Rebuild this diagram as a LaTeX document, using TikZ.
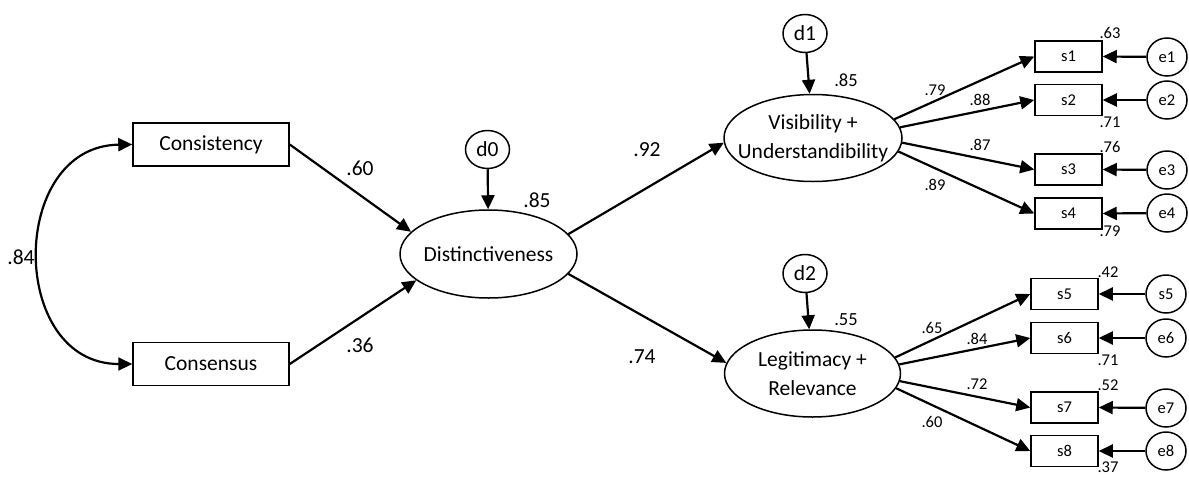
\documentclass[tikz,border=0pt]{standalone}
\usepackage{fontspec}
\setmainfont{Carlito}
\usetikzlibrary{arrows.meta,shapes.geometric}
\begin{document}
\begin{tikzpicture}[x=1pt,y=-1pt,
  big/.style={font=\fontsize{21.5}{29}\selectfont},
  mid/.style={font=\fontsize{18.5}{22}\selectfont},
  small/.style={font=\fontsize{16.5}{19}\selectfont},
  obsbox/.style={draw,line width=1.5pt,inner sep=0pt,minimum width=156pt,minimum height=43pt,big},
  ind/.style={draw,line width=1.5pt,inner sep=0pt,minimum width=67pt,minimum height=31pt,small},
  lat/.style={draw,ellipse,line width=1.5pt,inner sep=0pt,minimum width=177pt,minimum height=87pt},
  lattext/.style={inner sep=0pt,big,align=center},
  dist/.style={draw,ellipse,line width=1.5pt,inner sep=0pt,minimum width=44pt,minimum height=38pt,big},
  err/.style={draw,ellipse,line width=1.5pt,inner sep=0pt,minimum width=40pt,minimum height=38pt,small},
  arr/.style={-{Triangle[length=14pt,width=13pt]},line width=2.2pt},
  lbl/.style={inner sep=0pt}
]
\useasboundingbox (0,0) rectangle (1189,477);
% nodes
\node[obsbox] (cons) at (211,144.5) {Consistency};
\node[obsbox] (consen) at (211,364) {Consensus};
\node[lat,minimum height=88pt] (dis) at (488.5,254) {};
\node[lattext] (dist) at (dis) {Distinctiveness};
\node[dist] (d0) at (487.5,149.5) {d0};
\node[lat,minimum width=178pt] (vis) at (813,138) {};
\node[lattext] (vist) at (vis) {Visibility +\\Understandibility};
\node[dist] (d1) at (805,33.5) {d1};
\node[lat,minimum width=176pt] (leg) at (812.5,373.5) {};
\node[lattext] (legt) at (leg) {Legitimacy +\\Relevance};
\node[dist] (d2) at (805,273.5) {d2};
\node[ind] (s1) at (1068.5,56.5) {s1};
\node[ind] (s2) at (1068.5,100) {s2};
\node[ind] (s3) at (1068.5,169.5) {s3};
\node[ind] (s4) at (1068.5,213.5) {s4};
\node[ind] (s5) at (1064.5,294) {s5};
\node[ind] (s6) at (1064.5,338) {s6};
\node[ind] (s7) at (1064.5,407.5) {s7};
\node[ind] (s8) at (1064.5,451) {s8};
\node[err] (e1) at (1167,57) {e1};
\node[err] (e2) at (1167,100) {e2};
\node[err] (e3) at (1167,170) {e3};
\node[err] (e4) at (1167,213) {e4};
\node[err] (e5) at (1166,294) {s5};
\node[err] (e6) at (1166,338) {e6};
\node[err] (e7) at (1166,408) {e7};
\node[err] (e8) at (1166,451) {e8};
% connectors
\draw[{Triangle[length=14pt,width=13pt]}-{Triangle[length=14pt,width=13pt]},line width=2.2pt]
  (cons.west) .. controls (8,146) and (8,364) .. (consen.west);
\draw[arr] (cons.east) -- (dis.164);
\draw[arr] (consen.east) -- (dis.200);
\draw[arr] (d0) -- (dis);
\draw[arr] (dis.14) -- (vis.183);
\draw[arr] (dis.-14) -- (leg.173);
\draw[arr] (d1) -- (vis);
\draw[arr] (d2) -- (leg);
\draw[arr] (vis.13) -- (s1.west);
\draw[arr] (vis.7) -- (s2.west);
\draw[arr] (vis.-3) -- (s3.west);
\draw[arr] (vis.-9) -- (s4.west);
\draw[arr] (leg.11) -- (s5.west);
\draw[arr] (leg.6) -- (s6.west);
\draw[arr] (leg.-5) -- (s7.west);
\draw[arr] (leg.-10) -- (s8.west);
\foreach \i in {1,...,8} {\draw[arr] (e\i) -- (s\i.east);}
% labels
\node[lbl,big] (l84) at (21,257) {.84};
\node[lbl,big] (l60) at (360,168) {.60};
\node[lbl,big] (l36) at (360,345) {.36};
\node[lbl,big] (l85a) at (537,200) {.85};
\node[lbl,big] (l92) at (647,150) {.92};
\node[lbl,big] (l74) at (642,357) {.74};
\node[lbl,mid] (l85b) at (846,80) {.85};
\node[lbl,mid] (l55) at (846,320) {.55};
\node[lbl,small] (r1) at (1110,33) {.63};
\node[lbl,small] (r2) at (1110,122) {.71};
\node[lbl,small] (r3) at (1110,147) {.76};
\node[lbl,small] (r4) at (1110,231) {.79};
\node[lbl,small] (r5) at (1108,272) {.42};
\node[lbl,small] (r6) at (1108,360) {.71};
\node[lbl,small] (r7) at (1108,385) {.52};
\node[lbl,small] (r8) at (1108,467) {.37};
\node[lbl,small] (p1) at (935,90) {.79};
\node[lbl,small] (p2) at (980,100) {.88};
\node[lbl,small] (p3) at (980,145) {.87};
\node[lbl,small] (p4) at (935,185) {.89};
\node[lbl,small] (p5) at (932,328) {.65};
\node[lbl,small] (p6) at (977,339) {.84};
\node[lbl,small] (p7) at (977,384) {.72};
\node[lbl,small] (p8) at (932,422) {.60};
\end{tikzpicture}
\end{document}
